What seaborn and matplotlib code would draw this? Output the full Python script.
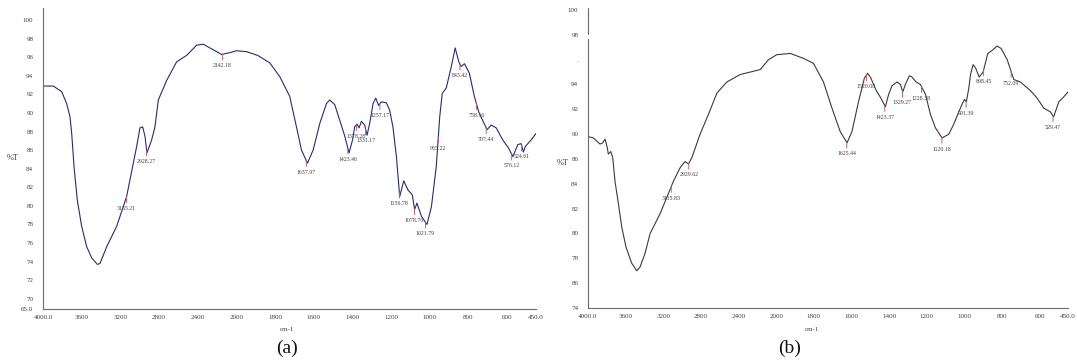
import numpy as np
import matplotlib
matplotlib.use("Agg")
import matplotlib.pyplot as plt
import seaborn as sns

# ---- spectrum (a) ----
wn_a = [4000, 3894, 3807, 3755, 3721, 3703, 3679, 3645, 3600, 3548, 3496, 3438, 3411, 3341,
        3238, 3135, 3066, 3031, 2997, 2969, 2945, 2925, 2876, 2842, 2807, 2721, 2618, 2514,
        2411, 2342, 2273, 2152, 2066, 1999, 1947, 1890, 1827, 1775, 1724, 1689, 1663, 1632,
        1603, 1568, 1534, 1517, 1491, 1465, 1439, 1417, 1399, 1388, 1376, 1365, 1353, 1336,
        1324, 1310, 1293, 1279, 1264, 1250, 1224, 1207, 1190, 1172, 1155, 1134, 1112, 1090,
        1078, 1066, 1043, 1014, 991, 966, 948, 935, 914, 888, 868, 849, 837, 820, 795, 769,
        746, 726, 703, 682, 656, 622, 591, 570, 544, 527, 515, 505, 475, 450]
t_a = [92.9, 92.9, 92.3, 91.0, 89.6, 87.8, 84.2, 80.6, 77.8, 75.6, 74.4, 73.7, 73.8, 75.6,
       77.8, 81.0, 84.6, 86.4, 88.4, 88.5, 87.5, 85.7, 87.1, 88.5, 91.4, 93.5, 95.5, 96.2,
       97.3, 97.4, 97.0, 96.3, 96.5, 96.7, 96.6, 96.2, 95.4, 93.9, 91.8, 88.5, 86.0, 84.6,
       86.0, 88.9, 91.0, 91.4, 90.9, 89.2, 87.5, 85.7, 87.1, 88.5, 88.8, 88.4, 89.1, 88.7,
       87.6, 88.9, 91.0, 91.6, 90.8, 91.2, 91.1, 90.3, 88.5, 85.3, 81.0, 82.7, 81.7, 81.2,
       79.6, 80.3, 78.9, 78.0, 79.9, 84.2, 89.6, 92.1, 92.7, 95.0, 97.0, 95.5, 95.0, 95.3,
       94.3, 91.8, 90.1, 89.2, 88.2, 88.7, 88.4, 87.1, 86.2, 85.3, 86.6, 86.7, 85.8, 86.4,
       87.1, 87.8]
peaks_a = [3135.21, 2928.27, 2142.18, 1637.97, 1423.46, 1378.28, 1331.17, 1257.17, 1156.78,
           1078.70, 1021.79, 955.22, 843.42, 758.16, 707.44, 576.12, 524.61]

# ---- spectrum (b) ----
wn_b = [4000, 3944, 3872, 3844, 3819, 3795, 3784, 3758, 3737, 3713, 3677, 3641, 3596, 3535,
        3482, 3447, 3394, 3340, 3234, 3163, 3093, 3021, 2968, 2933, 2897, 2809, 2720, 2631,
        2525, 2383, 2277, 2170, 2082, 1997, 1925, 1855, 1802, 1749, 1704, 1660, 1624, 1598,
        1563, 1532, 1515, 1500, 1468, 1444, 1420, 1403, 1385, 1358, 1340, 1328, 1314, 1293,
        1279, 1257, 1234, 1207, 1181, 1154, 1119, 1083, 1057, 1030, 1013, 1000, 990, 977,
        968, 954, 940, 922, 901, 876, 848, 827, 805, 773, 738, 703, 649, 614, 579, 544, 526,
        499, 473, 450]
t_b = [89.8, 89.7, 89.2, 89.3, 89.6, 88.9, 88.4, 88.6, 88.1, 86.2, 84.4, 82.5, 80.9, 79.6,
       79.0, 79.3, 80.4, 82.0, 83.6, 84.9, 86.2, 87.3, 87.8, 87.6, 88.1, 90.0, 91.6, 93.3,
       94.2, 94.8, 95.0, 95.2, 96.0, 96.4, 96.5, 96.1, 95.7, 94.2, 92.1, 90.2, 89.3, 90.2,
       92.6, 94.5, 94.9, 94.6, 93.5, 92.9, 92.2, 93.2, 93.9, 94.2, 94.0, 93.4, 94.0, 94.7,
       94.6, 94.2, 94.0, 93.2, 91.6, 90.5, 89.7, 90.0, 90.8, 91.8, 92.4, 92.8, 92.6, 93.7,
       94.8, 95.6, 95.3, 94.6, 95.0, 96.5, 96.8, 97.1, 96.9, 96.0, 94.4, 94.2, 93.5, 92.9,
       92.1, 91.8, 91.4, 92.6, 93.0, 93.4]
peaks_b = [3115.83, 2929.62, 1625.44, 1520.08, 1423.37, 1329.27, 1228.38, 1120.18, 991.39,
           898.45, 752.09, 529.47]

# ---- axis labelling ----
x_ticks = [4000, 3600, 3200, 2800, 2400, 2000, 1800, 1600, 1400, 1200, 1000, 800, 600, 450]
x_ticklabels = ["4000.0", "3600", "3200", "2800", "2400", "2000", "1800", "1600", "1400",
                "1200", "1000", "800", "600", "450.0"]
y_ticks_a = [68.9, 70, 72, 74, 76, 78, 80, 82, 84, 86, 88, 90, 92, 94, 96, 98, 100]
y_ticklabels_a = ["65.0", "70", "72", "74", "76", "78", "80", "82", "84", "86", "88", "90",
                  "92", "94", "96", "98", "100"]
y_ticks_b = [76, 78, 80, 82, 84, 86, 88, 90, 92, 94, 96, 98, 100]
y_ticklabels_b = ["74", "86", "78", "80", "82", "84", "86", "90", "92", "94", ".", "98", "100"]

sns.set_style("white")
plt.rcParams["font.family"] = ["Liberation Serif", "DejaVu Serif"]

LINE_A = "#29297a"
LINE_B = "#3a3a3a"
PEAK = "#c86464"
AXC = "#6a6a6a"
TXT = "#404040"


# wavenumber axis: above 2000 cm-1 the scale is compressed by two
def fwd(x):
    x = np.asarray(x, dtype=float)
    return np.where(x > 2000, 2000 + (x - 2000) / 2.0, x)


def inv(u):
    u = np.asarray(u, dtype=float)
    return np.where(u > 2000, 2000 + 2.0 * (u - 2000), u)


def draw_spectrum(ax, wn, t, peaks, color, ylim, yticks, yticklabels, marker_off):
    sns.lineplot(x=wn, y=t, ax=ax, color=color, lw=0.8, estimator=None)
    ax.set_xscale("function", functions=(fwd, inv))
    ax.set_xlim(4000, 450)
    ax.set_ylim(*ylim)
    ax.set_xticks(x_ticks)
    ax.set_xticklabels(x_ticklabels)
    ax.set_yticks(yticks)
    ax.set_yticklabels(yticklabels)
    ax.minorticks_off()
    ax.tick_params(axis="both", which="major", labelsize=5, colors=AXC, labelcolor=TXT,
                   length=2, width=0.6, direction="out")
    ax.tick_params(axis="y", pad=5)
    ax.tick_params(axis="x", pad=2)
    for side in ("top", "right"):
        ax.spines[side].set_visible(False)
    for side in ("left", "bottom"):
        ax.spines[side].set_color(AXC)
        ax.spines[side].set_linewidth(0.8)
    ax.grid(False)
    # peak markers
    order = np.argsort(wn)
    xs = np.asarray(wn, dtype=float)[order]
    ys = np.asarray(t, dtype=float)[order]
    for p in peaks:
        yp = float(np.interp(p, xs, ys))
        ax.annotate(f"{p:.2f}", xy=(p, yp), xytext=(0, -marker_off),
                    textcoords="offset points", ha="center", va="top",
                    fontsize=4.2, color=TXT,
                    arrowprops=dict(arrowstyle="-", color=PEAK, lw=0.7,
                                    shrinkA=0, shrinkB=0))


fig = plt.figure(figsize=(10.77, 3.63), dpi=100)
ax_a = fig.add_axes([43 / 1077, 54 / 363, 493 / 1077, 301 / 363])
ax_b = fig.add_axes([588 / 1077, 55 / 363, 480 / 1077, 300 / 363])

draw_spectrum(ax_a, wn_a, t_a, peaks_a, LINE_A, (68.9, 101.3), y_ticks_a, y_ticklabels_a, 6.5)
draw_spectrum(ax_b, wn_b, t_b, peaks_b, LINE_B, (76, 100.16), y_ticks_b, y_ticklabels_b, 6.5)

# broken upper part of the (b) ordinate
ax_b.spines["left"].set_bounds(76, 97.65)
ax_b.plot([0, 0], [98.1, 100.16], transform=ax_b.get_yaxis_transform(),
          color=AXC, lw=0.8, clip_on=False)

ax_a.set_xlabel("cm-1", fontsize=5, color=TXT)
ax_a.xaxis.set_label_coords(0.495, -0.06)
ax_a.set_ylabel("%T", fontsize=6, color=TXT, rotation=0)
ax_a.yaxis.set_label_coords(-0.061, 0.49)

ax_b.set_xlabel("cm-1", fontsize=5, color=TXT)
ax_b.xaxis.set_label_coords(0.467, -0.063)
ax_b.set_ylabel("%T", fontsize=6, color=TXT, rotation=0)
ax_b.yaxis.set_label_coords(-0.052, 0.47)

fig.text(287 / 1077, 1 - 348 / 363, "(a)", ha="center", va="center", fontsize=14, color="#111111")
fig.text(790 / 1077, 1 - 348 / 363, "(b)", ha="center", va="center", fontsize=14, color="#111111")

fig.savefig("out.png", dpi=100)
